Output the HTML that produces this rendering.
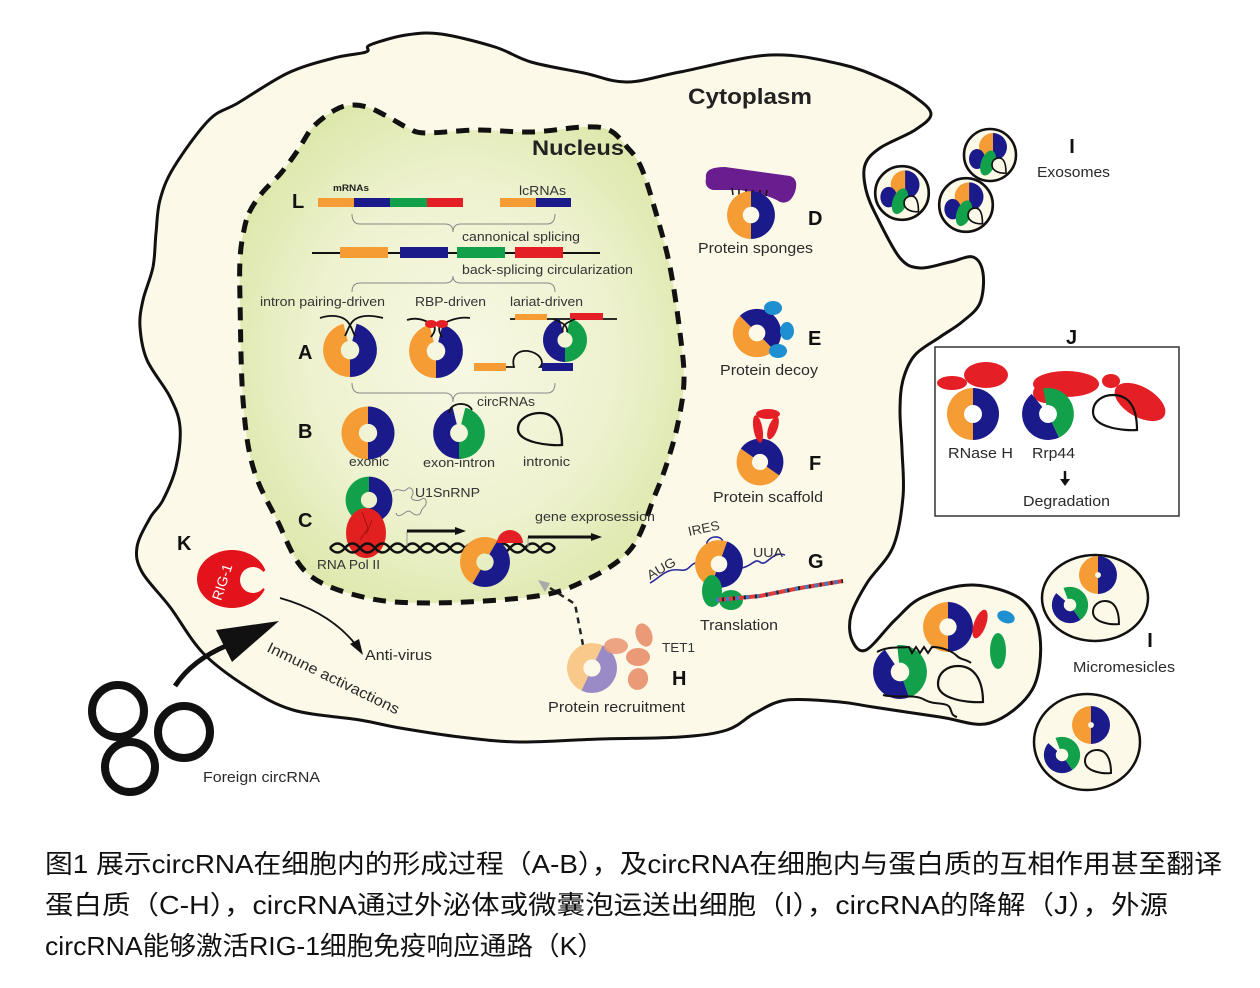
<!DOCTYPE html>
<html><head><meta charset="utf-8">
<style>
html,body{margin:0;padding:0;background:#fff;}
svg{display:block;}
text{font-family:"Liberation Sans","Noto Sans CJK SC",sans-serif;}
.l{font-size:13px;fill:#333;}
.m{font-size:15px;fill:#2a2a2a;}
.b{font-weight:bold;fill:#111;font-size:20px;}
.cap{font-size:26px;fill:#111;}
</style></head><body>
<svg width="1260" height="988" viewBox="0 0 1260 988" xmlns="http://www.w3.org/2000/svg">
<defs>
<radialGradient id="ng" cx="0.5" cy="0.5" r="0.62">
 <stop offset="0" stop-color="#f8f8e4"/>
 <stop offset="0.55" stop-color="#eef2cf"/>
 <stop offset="1" stop-color="#d8e5a2"/>
</radialGradient>
<g id="OB">
 <path d="M0,26 A26,26 0 0 1 0,-26 L0,-9 A9,9 0 0 0 0,9Z" fill="#f59c34"/>
 <path d="M0,-26 A26,26 0 0 1 0,26 L0,9 A9,9 0 0 0 0,-9Z" fill="#1b1a8a"/>
</g>
<g id="OBs">
 <path d="M0,26 A26,26 0 0 1 0,-26 L0,-4 A4,4 0 0 0 0,4Z" fill="#f59c34"/>
 <path d="M0,-26 A26,26 0 0 1 0,26 L0,4 A4,4 0 0 0 0,-4Z" fill="#1b1a8a"/>
</g>
<g id="OBg">
 <path d="M0,26 A26,26 0 0 1 -6.3,-25.2 L-2.2,-8.7 A9,9 0 0 0 0,9Z" fill="#f59c34"/>
 <path d="M6.3,-25.2 A26,26 0 0 1 0,26 L0,9 A9,9 0 0 0 2.2,-8.7Z" fill="#1b1a8a"/>
</g>
<g id="BGg">
 <path d="M0,26 A26,26 0 0 1 -6.3,-25.2 L-2.2,-8.7 A9,9 0 0 0 0,9Z" fill="#1b1a8a"/>
 <path d="M6.3,-25.2 A26,26 0 0 1 0,26 L0,9 A9,9 0 0 0 2.2,-8.7Z" fill="#12a04a"/>
</g>
<g id="GB">
 <path d="M0,26 A26,26 0 0 1 0,-26 L0,-9 A9,9 0 0 0 0,9Z" fill="#12a04a"/>
 <path d="M0,-26 A26,26 0 0 1 0,26 L0,9 A9,9 0 0 0 0,-9Z" fill="#1b1a8a"/>
</g>
<g id="OP">
 <path d="M0,26 A26,26 0 0 1 0,-26 L0,-9 A9,9 0 0 0 0,9Z" fill="#f8c98a"/>
 <path d="M0,-26 A26,26 0 0 1 0,26 L0,9 A9,9 0 0 0 0,-9Z" fill="#9a8bc6"/>
</g>
<path id="td" d="M20,16 C10,17 -20,14 -20,0 C-20,-10 -10,-16 0,-16 C12,-16 20,-6 20,16Z" fill="none" stroke="#111" stroke-width="2.2"/>
<g id="exo">
 <circle r="26" fill="#fdf9e8" stroke="#111" stroke-width="2.6"/>
 <path d="M3,-22 A14,14 0 0 0 3,6Z" fill="#f59c34"/>
 <path d="M3,-22 A14,14 0 0 1 3,6Z" fill="#1b1a8a"/>
 <ellipse cx="-13" cy="4" rx="8" ry="10" fill="#1b1a8a"/>
 <ellipse cx="-2" cy="8" rx="7" ry="13" transform="rotate(20 -2 8)" fill="#12a04a"/>
 <path d="M16,18 C10,19 2,16 2,10 C2,5 6,3 9,3 C14,3 16,8 16,18Z" fill="#fdf9e8" stroke="#111" stroke-width="1.6"/>
</g>
</defs>

<!-- cell -->
<path id="cell" d="M160,200 L174,167 L209,120 L238,103 L288,73 L334,58 L366,52 L370,45 L406,35 L441,34 L495,47 L531,62 L584,73 L627,82 L680,72 L770,55 L840,64 L885,80 L915,97 L931,114 L915,130 L880,148 L865,165 L866,190 L877,217 L900,258 L920,268 L950,262 L973,257 L983,273 L980,303 L962,322 L940,337 L915,355 L903,380 L900,410 L902,450 L903,497 L893,547 L867,583 L851,615 L852,640 L866,650 L895,620 L923,597 L973,585 L1022,600 L1040,637 L1032,690 L990,723 L940,717 L873,707 L840,702 L787,700 L755,713 L727,730 L680,737 L600,739 L520,742 L460,737 L400,728 L360,720 L293,710 L247,687 L203,653 L170,607 L142,572 L137,547 L150,518 L163,500 L176,467 L180,427 L170,397 L147,360 L140,327 L143,300 L153,267 L156,233 Z" fill="#fdf9e8" stroke="#111" stroke-width="3"/>

<!-- nucleus -->
<path id="nuc" d="M249,213 L262,193 L281,173 L298,150 L313,127 L335,110 L352,105 L370,108 L390,118 L408,128 L425,133 L477,130 L531,132 L584,127 L609,130 L627,147 L641,167 L656,213 L670,267 L680,333 L684,380 L678,423 L668,460 L655,495 L630,550 L580,583 L530,597 L430,603 L363,597 L307,573 L277,520 L253,467 L243,400 L240,300 L240,260 L243,235 Z" fill="url(#ng)" stroke="#111" stroke-width="5" stroke-dasharray="13 9"/>

<text x="688" y="104" class="b" font-size="22" textLength="124" lengthAdjust="spacingAndGlyphs" style="font-size:22px;fill:#222">Cytoplasm</text>
<text x="532" y="155" class="b" textLength="92" lengthAdjust="spacingAndGlyphs" style="font-size:21px;fill:#222">Nucleus</text>

<!-- L row -->
<text x="292" y="208" class="b">L</text>
<text x="333" y="191" style="font-size:9px;font-weight:bold;fill:#222" textLength="36" lengthAdjust="spacingAndGlyphs">mRNAs</text>
<text x="519" y="195" class="l" textLength="47" lengthAdjust="spacingAndGlyphs">lcRNAs</text>
<rect x="318" y="198" width="36" height="9" fill="#f59c34"/>
<rect x="354" y="198" width="36" height="9" fill="#1b1a8a"/>
<rect x="390" y="198" width="37" height="9" fill="#12a04a"/>
<rect x="427" y="198" width="36" height="9" fill="#e41f26"/>
<rect x="500" y="198" width="36" height="9" fill="#f59c34"/>
<rect x="536" y="198" width="35" height="9" fill="#1b1a8a"/>
<path d="M352,214 Q352,224 360,224 L445,224 Q453,224 453,232 Q453,224 461,224 L547,224 Q555,224 555,214" fill="none" stroke="#888" stroke-width="1"/>
<text x="462" y="241" class="l" textLength="118" lengthAdjust="spacingAndGlyphs">cannonical splicing</text>
<line x1="312" y1="253" x2="600" y2="253" stroke="#111" stroke-width="2"/>
<rect x="340" y="247" width="48" height="11" fill="#f59c34"/>
<rect x="400" y="247" width="48" height="11" fill="#1b1a8a"/>
<rect x="457" y="247" width="48" height="11" fill="#12a04a"/>
<rect x="515" y="247" width="48" height="11" fill="#e41f26"/>
<text x="462" y="274" class="l" textLength="171" lengthAdjust="spacingAndGlyphs">back-splicing circularization</text>
<path d="M352,292 Q352,283 360,283 L445,283 Q453,283 453,276 Q453,283 461,283 L547,283 Q555,283 555,292" fill="none" stroke="#888" stroke-width="1"/>
<text x="260" y="306" class="l" textLength="125" lengthAdjust="spacingAndGlyphs">intron pairing-driven</text>
<text x="415" y="306" class="l" textLength="71" lengthAdjust="spacingAndGlyphs">RBP-driven</text>
<text x="510" y="306" class="l" textLength="73" lengthAdjust="spacingAndGlyphs">lariat-driven</text>

<!-- A row -->
<text x="298" y="359" class="b">A</text>
<use href="#OBg" transform="translate(350,350) scale(1.04)"/>
<path d="M320,318 C332,314 342,316 347,321 C351,325 352,330 355,336" fill="none" stroke="#111" stroke-width="1.8"/>
<path d="M383,318 C368,314 358,316 353,321 C349,325 348,330 345,336" fill="none" stroke="#111" stroke-width="1.8"/>
<use href="#OBg" transform="translate(436,351) scale(1.04)"/>
<path d="M407,320 C418,316 428,322 434,325 C436,330 434,333 431,337" fill="none" stroke="#111" stroke-width="1.8"/>
<path d="M470,318 C458,316 446,322 440,325 C438,330 440,333 442,337" fill="none" stroke="#111" stroke-width="1.8"/>
<ellipse cx="431" cy="324" rx="6" ry="4" fill="#e41f26"/>
<ellipse cx="442" cy="324" rx="6" ry="4" fill="#e41f26"/>
<line x1="510" y1="319" x2="617" y2="319" stroke="#111" stroke-width="1.8"/>
<rect x="515" y="314" width="32" height="6" fill="#f59c34"/>
<rect x="570" y="313" width="33" height="7" fill="#e41f26"/>
<use href="#BGg" transform="translate(565,340) scale(0.85)"/>
<path d="M553,319 C560,322 568,324 567,332" fill="none" stroke="#111" stroke-width="1.6"/>
<path d="M575,319 C568,322 561,325 563,332" fill="none" stroke="#111" stroke-width="1.6"/>
<rect x="474" y="363" width="32" height="8" fill="#f59c34"/>
<path d="M506,367 L514,367 C511,356 518,350 528,351 C540,353 545,362 540,367 L542,367" fill="none" stroke="#111" stroke-width="1.8"/>
<rect x="542" y="363" width="31" height="8" fill="#1b1a8a"/>
<path d="M352,383 Q352,393 360,393 L445,393 Q453,393 453,402 Q453,393 461,393 L547,393 Q555,393 555,383" fill="none" stroke="#888" stroke-width="1"/>
<text x="477" y="406" class="l" textLength="58" lengthAdjust="spacingAndGlyphs">circRNAs</text>

<!-- B row -->
<text x="298" y="438" class="b">B</text>
<use href="#OB" transform="translate(368,433) scale(1.02)"/>
<use href="#BGg" transform="translate(459,433)"/>
<path d="M449,413 C450,402 468,401 472,410" fill="none" stroke="#111" stroke-width="1.8"/>
<use href="#td" transform="translate(540,429) scale(1.1,1)"/>
<text x="349" y="466" class="l" textLength="40" lengthAdjust="spacingAndGlyphs">exonic</text>
<text x="423" y="467" class="l" textLength="72" lengthAdjust="spacingAndGlyphs">exon-intron</text>
<text x="523" y="466" class="l" textLength="47" lengthAdjust="spacingAndGlyphs">intronic</text>

<!-- C row -->
<text x="298" y="527" class="b">C</text>
<path d="M393,492 c5,-6 10,2 14,-3 c4,-4 8,3 5,7 c-3,4 6,6 10,3 c4,-3 6,5 2,8 c-4,3 -2,8 -7,8 c-5,0 -6,-6 -11,-3 c-4,3 -9,6 -10,1" fill="none" stroke="#888" stroke-width="1"/>
<use href="#GB" transform="translate(369,500) scale(0.9)"/>
<ellipse cx="366" cy="533" rx="20" ry="25" fill="#e1201f"/>
<path d="M362,512 L368,528 L360,540 M372,520 L366,535" fill="none" stroke="#9a1010" stroke-width="0.8"/>
<text x="415" y="497" class="l" textLength="65" lengthAdjust="spacingAndGlyphs">U1SnRNP</text>
<text x="535" y="521" class="l" textLength="120" lengthAdjust="spacingAndGlyphs">gene exprosession</text>
<path d="M330,548 q7.5,-9 15,0 t15,0 t15,0 t15,0 t15,0 t15,0 t15,0 t15,0 t15,0 t15,0 t15,0 t15,0 t15,0 t15,0 t15,0" fill="none" stroke="#111" stroke-width="2.5"/>
<path d="M330,548 q7.5,9 15,0 t15,0 t15,0 t15,0 t15,0 t15,0 t15,0 t15,0 t15,0 t15,0 t15,0 t15,0 t15,0 t15,0 t15,0" fill="none" stroke="#111" stroke-width="2.5"/>
<path d="M407,546 L407,531" stroke="#999" stroke-width="1"/>
<path d="M407,531 L456,531" stroke="#111" stroke-width="3"/>
<polygon points="455,527 466,531 455,535" fill="#111"/>
<path d="M528,548 L528,537" stroke="#999" stroke-width="1"/>
<path d="M528,537 L592,537" stroke="#111" stroke-width="3"/>
<polygon points="591,533 602,537 591,541" fill="#111"/>
<use href="#OB" transform="translate(485,562) rotate(30) scale(0.96)"/>
<path d="M497,543 A13,13 0 0 1 523,543 Z" fill="#e41f26"/>
<text x="317" y="569" class="l" textLength="63" lengthAdjust="spacingAndGlyphs">RNA Pol II</text>

<!-- K -->
<text x="177" y="550" class="b">K</text>
<ellipse cx="232" cy="579" rx="35" ry="29" fill="#e3131b"/>
<circle cx="253" cy="580" r="13" fill="#fdf9e8"/>
<polygon points="253,580 272,565 272,595" fill="#fdf9e8"/>
<text x="222" y="587" text-anchor="middle" transform="rotate(-72 222 582)" style="font-size:14px;fill:#fff">RIG-1</text>
<path d="M280,598 Q330,612 356,645" fill="none" stroke="#111" stroke-width="1.8"/>
<polygon points="350,644 363,655 359,639" fill="#111"/>
<text x="365" y="660" class="m" textLength="67" lengthAdjust="spacingAndGlyphs">Anti-virus</text>
<path d="M175,686 Q192,660 228,645" fill="none" stroke="#111" stroke-width="5"/>
<polygon points="279,621 216,630 232,662" fill="#111"/>
<text x="266" y="651" class="m" transform="rotate(26 266 651)" textLength="145" lengthAdjust="spacingAndGlyphs">Inmune activactions</text>
<circle cx="118" cy="711" r="26" fill="none" stroke="#111" stroke-width="8"/>
<circle cx="130" cy="767" r="25" fill="none" stroke="#111" stroke-width="8"/>
<circle cx="184" cy="732" r="26" fill="none" stroke="#111" stroke-width="8"/>
<text x="203" y="782" class="m" textLength="117" lengthAdjust="spacingAndGlyphs">Foreign circRNA</text>

<!-- D -->
<path d="M706,178 Q704,167 725,167 L790,176 Q799,179 795,192 Q790,205 780,202 Q770,195 740,190 L713,190 Q704,188 706,178 Z" fill="#6a1d8f"/>
<path d="M732,188 l1,7 M739,189 l0,7 M746,189 l0,7 M753,190 l0,6 M760,190 l0,6 M767,190 l-1,6" stroke="#111" stroke-width="1.5"/>
<use href="#OB" transform="translate(751,215) scale(0.92)"/>
<text x="808" y="225" class="b">D</text>
<text x="698" y="253" class="m" textLength="115" lengthAdjust="spacingAndGlyphs">Protein sponges</text>

<!-- E -->
<use href="#OB" transform="translate(757,333) rotate(-45) scale(0.93)"/>
<ellipse cx="773" cy="308" rx="9" ry="7" fill="#1e8fd0"/>
<ellipse cx="787" cy="331" rx="7" ry="9" fill="#1e8fd0"/>
<ellipse cx="778" cy="351" rx="9" ry="7" fill="#1e8fd0"/>
<text x="808" y="345" class="b">E</text>
<text x="720" y="375" class="m" textLength="98" lengthAdjust="spacingAndGlyphs">Protein decoy</text>

<!-- F -->
<use href="#OB" transform="translate(760,462) rotate(-55) scale(0.9)"/>
<ellipse cx="758" cy="429" rx="4.5" ry="14" transform="rotate(-10 758 429)" fill="#e41f26"/>
<ellipse cx="773" cy="428" rx="4.5" ry="12" transform="rotate(20 773 428)" fill="#e41f26"/>
<ellipse cx="768" cy="414" rx="12" ry="5" fill="#e41f26"/>
<text x="809" y="470" class="b">F</text>
<text x="713" y="502" class="m" textLength="110" lengthAdjust="spacingAndGlyphs">Protein scaffold</text>

<!-- G -->
<path d="M650,583 C660,578 665,568 680,570 C690,572 690,562 698,563" fill="none" stroke="#2a2a9a" stroke-width="1.6"/>
<path d="M742,568 C752,566 755,558 760,562 C766,568 772,550 785,555" fill="none" stroke="#2a2a9a" stroke-width="1.6"/>
<path d="M707,547 C704,535 725,533 723,545" fill="none" stroke="#2a2a9a" stroke-width="1.6"/>
<use href="#OB" transform="translate(719,564) rotate(20) scale(0.92)"/>
<ellipse cx="712" cy="591" rx="10" ry="16" fill="#12a04a"/>
<ellipse cx="731" cy="600" rx="12" ry="10" fill="#12a04a"/>
<path d="M716,600 L760,596 L800,588 L843,581" fill="none" stroke="#e23a3a" stroke-width="4"/>
<path d="M716,600 L760,596 L800,588 L843,581" fill="none" stroke="#2d7fd0" stroke-width="4" stroke-dasharray="3 7"/>
<path d="M716,600 L760,596 L800,588 L843,581" fill="none" stroke="#222" stroke-width="4" stroke-dasharray="2 9" stroke-dashoffset="5"/>
<text x="689" y="536" class="l" transform="rotate(-12 689 536)" textLength="32" lengthAdjust="spacingAndGlyphs">IRES</text>
<text x="650" y="580" class="l" transform="rotate(-30 650 580)" textLength="31" lengthAdjust="spacingAndGlyphs">AUG</text>
<text x="753" y="557" class="l" textLength="30" lengthAdjust="spacingAndGlyphs">UUA</text>
<text x="808" y="568" class="b">G</text>
<text x="700" y="630" class="m" textLength="78" lengthAdjust="spacingAndGlyphs">Translation</text>

<!-- H -->
<path d="M583,645 L575,604 L550,588" fill="none" stroke="#222" stroke-width="2.5" stroke-dasharray="6 5"/>
<polygon points="538,580 550,583 545,592" fill="#aaa"/>
<use href="#OP" transform="translate(592,668) rotate(25) scale(0.96)"/>
<ellipse cx="644" cy="635" rx="8" ry="12" transform="rotate(-20 644 635)" fill="#eb9a78"/>
<ellipse cx="616" cy="646" rx="12" ry="8" fill="#eb9a78" opacity="0.9"/>
<ellipse cx="638" cy="657" rx="12" ry="9" fill="#eb9a78"/>
<ellipse cx="638" cy="679" rx="10" ry="11" transform="rotate(20 638 679)" fill="#eb9a78"/>
<text x="662" y="652" class="l" textLength="33" lengthAdjust="spacingAndGlyphs">TET1</text>
<text x="672" y="685" class="b">H</text>
<text x="548" y="712" class="m" textLength="137" lengthAdjust="spacingAndGlyphs">Protein recruitment</text>

<!-- Exosomes -->
<use href="#exo" transform="translate(990,155)"/>
<use href="#exo" transform="translate(902,193) scale(1.03)"/>
<use href="#exo" transform="translate(966,205) scale(1.03)"/>
<text x="1072" y="153" class="b" text-anchor="middle">I</text>
<text x="1037" y="177" class="m" textLength="73" lengthAdjust="spacingAndGlyphs">Exosomes</text>

<!-- J -->
<text x="1066" y="344" class="b">J</text>
<rect x="935" y="347" width="244" height="169" fill="#fff" stroke="#333" stroke-width="1.5"/>
<ellipse cx="986" cy="375" rx="22" ry="13" fill="#e41f26"/>
<ellipse cx="952" cy="383" rx="15" ry="7" fill="#e41f26"/>
<ellipse cx="1066" cy="384" rx="33" ry="13" fill="#e41f26"/>
<ellipse cx="1046" cy="393" rx="13" ry="10" fill="#e41f26"/>
<ellipse cx="1140" cy="402" rx="28" ry="15" transform="rotate(30 1140 402)" fill="#e41f26"/>
<ellipse cx="1111" cy="381" rx="9" ry="7" fill="#e41f26"/>
<use href="#OB" transform="translate(973,414)"/>
<use href="#BGg" transform="translate(1048,414) rotate(-25)"/>
<path d="M1137,430 C1125,431 1093,428 1093,412 C1093,401 1103,395 1113,395 C1128,395 1137,406 1137,430Z" fill="none" stroke="#111" stroke-width="2.2"/>
<text x="948" y="458" class="m" textLength="65" lengthAdjust="spacingAndGlyphs">RNase H</text>
<text x="1032" y="458" class="m" textLength="43" lengthAdjust="spacingAndGlyphs">Rrp44</text>
<line x1="1065" y1="471" x2="1065" y2="480" stroke="#111" stroke-width="2.5"/>
<polygon points="1060,479 1070,479 1065,486" fill="#111"/>
<text x="1023" y="506" class="m" textLength="87" lengthAdjust="spacingAndGlyphs">Degradation</text>

<!-- big micro vesicle contents -->
<use href="#OB" transform="translate(948,627) scale(0.96)"/>
<ellipse cx="980" cy="624" rx="6" ry="15" transform="rotate(20 980 624)" fill="#e41f26"/>
<ellipse cx="1006" cy="617" rx="9" ry="6" transform="rotate(20 1006 617)" fill="#1e8fd0"/>
<ellipse cx="998" cy="651" rx="8" ry="18" fill="#12a04a"/>
<use href="#BGg" transform="translate(900,672) rotate(-20) scale(1.04)"/>
<path d="M983,702 C970,703 938,700 938,684 C938,672 948,666 958,666 C973,666 983,678 983,702Z" fill="none" stroke="#111" stroke-width="2.2"/>
<path d="M877,652 C888,646 898,648 909,647 l3,6 l4,-6 l4,6 l4,-6 l4,6 l4,-6 c10,0 20,4 25,9 c4,4 9,3 14,7" fill="none" stroke="#111" stroke-width="2"/>
<path d="M883,695 c15,4 30,-2 42,5 c10,5 14,2 22,5 c6,3 2,10 10,12" fill="none" stroke="#111" stroke-width="2"/>

<!-- micro vesicles -->
<ellipse cx="1095" cy="598" rx="53" ry="43" fill="#fdf9e8" stroke="#111" stroke-width="2.5"/>
<use href="#OBs" transform="translate(1098,575) scale(0.73)"/>
<use href="#BGg" transform="translate(1070,605) rotate(-35) scale(0.7)"/>
<path d="M1119,624 C1112,625 1093,623 1093,612 C1093,605 1099,601 1105,601 C1114,601 1119,609 1119,624Z" fill="none" stroke="#111" stroke-width="2"/>
<ellipse cx="1087" cy="742" rx="53" ry="48" fill="#fdf9e8" stroke="#111" stroke-width="2.5"/>
<use href="#OBs" transform="translate(1091,725) scale(0.73)"/>
<use href="#BGg" transform="translate(1062,755) rotate(-35) scale(0.7)"/>
<path d="M1111,773 C1104,774 1085,772 1085,761 C1085,754 1091,750 1097,750 C1106,750 1111,758 1111,773Z" fill="none" stroke="#111" stroke-width="2"/>
<text x="1150" y="647" class="b" text-anchor="middle">I</text>
<text x="1073" y="672" class="m" textLength="102" lengthAdjust="spacingAndGlyphs">Micromesicles</text>

<!-- caption -->
<text x="45" y="873" class="cap" textLength="1177" lengthAdjust="spacingAndGlyphs">图1 展示circRNA在细胞内的形成过程（A-B），及circRNA在细胞内与蛋白质的互相作用甚至翻译</text>
<text x="45" y="914" class="cap" textLength="1123" lengthAdjust="spacingAndGlyphs">蛋白质（C-H），circRNA通过外泌体或微囊泡运送出细胞（I），circRNA的降解（J），外源</text>
<text x="45" y="955" class="cap" textLength="559" lengthAdjust="spacingAndGlyphs">circRNA能够激活RIG-1细胞免疫响应通路（K）</text>
</svg>
<script>
function smooth(id){
 var el=document.getElementById(id);
 var nums=el.getAttribute('d').match(/-?\d+(\.\d+)?/g).map(Number);
 var p=[];for(var i=0;i+1<nums.length;i+=2)p.push([nums[i],nums[i+1]]);
 var n=p.length,d='M'+p[0][0]+','+p[0][1];
 for(var i=0;i<n;i++){var a=p[(i-1+n)%n],b=p[i],c=p[(i+1)%n],e=p[(i+2)%n];
  d+=' C'+(b[0]+(c[0]-a[0])/6).toFixed(1)+','+(b[1]+(c[1]-a[1])/6).toFixed(1)+' '+(c[0]-(e[0]-b[0])/6).toFixed(1)+','+(c[1]-(e[1]-b[1])/6).toFixed(1)+' '+c[0]+','+c[1];}
 el.setAttribute('d',d+'Z');
}
try{smooth('cell');smooth('nuc');}catch(e){}
</script>
</body></html>
